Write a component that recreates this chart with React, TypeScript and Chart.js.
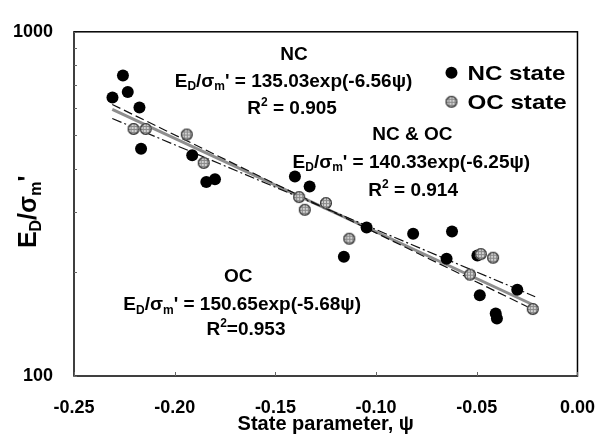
import React, { useEffect, useRef } from 'react';
import { Chart, registerables } from 'chart.js';

Chart.register(...registerables);

// ---------- data ----------
const ncPsi = [-0.2309, -0.2257, -0.2233, -0.2175, -0.2167, -0.1913, -0.1843, -0.18, -0.1403, -0.133, -0.1047, -0.0816, -0.116, -0.0623, -0.065, -0.0497, -0.0485, -0.0299, -0.0406, -0.04];
const ncED = [644, 747, 668, 603, 457, 438, 366, 373, 380, 355, 270, 259, 222, 263, 219, 224, 171.5, 178, 152, 147];

const ocPsi = [-0.2204, -0.2144, -0.194, -0.1856, -0.1382, -0.1354, -0.1249, -0.1133, -0.048, -0.0419, -0.0534, -0.0222];
const ocED = [522, 522, 503, 416, 331, 304, 318, 250.5, 226, 220.6, 197, 156.5];

// fitted lines (end points)
const fitPsi = [-0.231, -0.021];
const ncFit = [615, 155];
const ocFit = [560, 170];
const allFit = [595, 160];

const xTicks = [-0.25, -0.2, -0.15, -0.1, -0.05, 0];
const xTickLabels = ['-0.25', '-0.20', '-0.15', '-0.10', '-0.05', '0.00'];
const yTicks = [100, 200, 300, 400, 500, 600, 700, 800, 900, 1000];
const yTickLabels = ['100', '', '', '', '', '', '', '', '', '1000'];

const legendLabels = ['NC state', 'OC state'];
const xTitle = 'State parameter, \u03c8';

type Seg = { t: string; sub?: boolean; sup?: boolean };

const formula = (a: string, b: string): Seg[] => [
  { t: 'E' }, { t: 'D', sub: true }, { t: '/\u03c3' }, { t: 'm', sub: true },
  { t: `' = ${a}exp(${b}\u03c8)` },
];
const rsq = (v: string, sp: boolean): Seg[] => [{ t: 'R' }, { t: '2', sup: true }, { t: sp ? ` = ${v}` : `=${v}` }];

// text annotations anchored in data coordinates
const notes: { x: number; y: number; segs: Seg[] }[] = [
  { x: -0.1408, y: 865, segs: [{ t: 'NC' }] },
  { x: -0.141, y: 725, segs: formula('135.03', '-6.56') },
  { x: -0.1417, y: 605, segs: rsq('0.905', true) },
  { x: -0.082, y: 509, segs: [{ t: 'NC & OC' }] },
  { x: -0.0825, y: 422, segs: formula('140.33', '-6.25') },
  { x: -0.0816, y: 350, segs: rsq('0.914', true) },
  { x: -0.1684, y: 196.5, segs: [{ t: 'OC' }] },
  { x: -0.1665, y: 163, segs: formula('150.65', '-5.68') },
  { x: -0.1646, y: 138, segs: rsq('0.953', false) },
];

const FONT = '"Liberation Sans", Arial, sans-serif';

function drawRich(ctx: CanvasRenderingContext2D, segs: Seg[], cx: number, cy: number, size: number, hscale = 1) {
  ctx.save();
  ctx.textBaseline = 'alphabetic';
  ctx.textAlign = 'left';
  ctx.fillStyle = '#000';
  const fontFor = (s: Seg) => `bold ${s.sub || s.sup ? Math.round(size * 0.62) : size}px ${FONT}`;
  let w = 0;
  const widths = segs.map((s) => {
    ctx.font = fontFor(s);
    const m = ctx.measureText(s.t).width;
    w += m;
    return m;
  });
  ctx.translate(cx, cy);
  ctx.scale(hscale, 1);
  let x = -w / 2;
  const base = (size * 0.716) / 2;
  segs.forEach((s, i) => {
    ctx.font = fontFor(s);
    let y = base;
    if (s.sub) y += size * 0.2;
    if (s.sup) y -= size * 0.42;
    ctx.fillText(s.t, x, y);
    x += widths[i];
  });
  ctx.restore();
}

function makeGreyMarker(r: number): HTMLCanvasElement {
  const c = document.createElement('canvas');
  const s = r * 2 + 2;
  c.width = s;
  c.height = s;
  const g = c.getContext('2d')!;
  const m = s / 2;
  g.beginPath();
  g.arc(m, m, r, 0, Math.PI * 2);
  g.fillStyle = '#d2d2d2';
  g.fill();
  g.save();
  g.clip();
  g.strokeStyle = '#8a8a8a';
  g.lineWidth = 1;
  for (let k = -r; k <= r; k += 3) {
    g.beginPath();
    g.moveTo(m + k + 0.5, 0);
    g.lineTo(m + k + 0.5, s);
    g.stroke();
    g.beginPath();
    g.moveTo(0, m + k + 0.5);
    g.lineTo(s, m + k + 0.5);
    g.stroke();
  }
  g.restore();
  g.beginPath();
  g.arc(m, m, r - 0.6, 0, Math.PI * 2);
  g.strokeStyle = '#3a3a3a';
  g.lineWidth = 1.3;
  g.stroke();
  return c;
}

export default function App() {
  const ref = useRef<HTMLCanvasElement | null>(null);

  useEffect(() => {
    if (!ref.current) return;
    const grey = makeGreyMarker(6);

    const overlay = {
      id: 'overlay',
      beforeDatasetsDraw(chart: any) {
        const { ctx, chartArea: a, scales } = chart;
        ctx.save();
        ctx.strokeStyle = '#000';
        ctx.lineWidth = 1.5;
        ctx.strokeRect(a.left, a.top, a.right - a.left, a.bottom - a.top);
        ctx.lineWidth = 1;
        ctx.strokeStyle = '#666';
        xTicks.forEach((v) => {
          const px = Math.round(scales.x.getPixelForValue(v)) + 0.5;
          ctx.beginPath();
          ctx.moveTo(px, a.bottom);
          ctx.lineTo(px, a.bottom - 4);
          ctx.stroke();
        });
        yTicks.forEach((v) => {
          const py = Math.round(scales.y.getPixelForValue(v)) + 0.5;
          ctx.beginPath();
          ctx.moveTo(a.left, py);
          ctx.lineTo(a.left + 3, py);
          ctx.stroke();
        });
        ctx.restore();
      },
      afterDraw(chart: any) {
        const { ctx, chartArea: a, scales } = chart;
        notes.forEach((n) => {
          drawRich(ctx, n.segs, scales.x.getPixelForValue(n.x), scales.y.getPixelForValue(n.y), 19, 1.0);
        });
        // legend
        const lx = a.right - 126;
        const ly = a.top + 41;
        ctx.save();
        ctx.fillStyle = '#000';
        ctx.beginPath();
        ctx.arc(lx, ly, 6, 0, Math.PI * 2);
        ctx.fill();
        ctx.drawImage(grey, lx - grey.width / 2, ly + 29 - grey.height / 2);
        ctx.font = `bold 21px ${FONT}`;
        ctx.textBaseline = 'middle';
        ctx.textAlign = 'left';
        ctx.translate(lx + 16, 0);
        ctx.scale(1.15, 1);
        ctx.fillText(legendLabels[0], 0, ly + 1);
        ctx.fillText(legendLabels[1], 0, ly + 30);
        ctx.restore();
        // y title
        ctx.save();
        ctx.translate(27, (a.top + a.bottom) / 2 + 8);
        ctx.rotate(-Math.PI / 2);
        drawRich(ctx, [{ t: 'E' }, { t: 'D', sub: true }, { t: '/\u03c3' }, { t: 'm', sub: true }, { t: "'" }], 0, 0, 25);
        ctx.restore();
      },
    };

    const pts = (xs: number[], ys: number[]) => xs.map((x, i) => ({ x, y: ys[i] }));

    const chart = new Chart(ref.current, {
      type: 'scatter',
      data: {
        datasets: [
          {
            label: legendLabels[0],
            data: pts(ncPsi, ncED),
            pointRadius: 6,
            pointBackgroundColor: '#000',
            pointBorderWidth: 0,
            order: 1,
          },
          {
            label: legendLabels[1],
            data: pts(ocPsi, ocED),
            pointStyle: grey as any,
            order: 0,
          },
          {
            label: 'NC & OC fit',
            data: pts(fitPsi, allFit),
            showLine: true,
            pointRadius: 0,
            borderColor: '#8e8e8e',
            borderWidth: 3,
            order: 3,
          },
          {
            label: 'NC fit',
            data: pts(fitPsi, ncFit),
            showLine: true,
            pointRadius: 0,
            borderColor: '#111',
            borderWidth: 1.2,
            borderDash: [9, 4],
            order: 2,
          },
          {
            label: 'OC fit',
            data: pts(fitPsi, ocFit),
            showLine: true,
            pointRadius: 0,
            borderColor: '#111',
            borderWidth: 1.2,
            borderDash: [10, 3, 2, 3],
            order: 2,
          },
        ],
      },
      options: {
        animation: false,
        responsive: false,
        devicePixelRatio: 1,
        layout: { padding: { top: 19, right: 27, left: 0, bottom: 0 } },
        plugins: { legend: { display: false }, tooltip: { enabled: false } },
        scales: {
          x: {
            type: 'linear',
            min: -0.25,
            max: 0,
            grid: { display: false, drawTicks: false },
            border: { display: false },
            afterBuildTicks: (s: any) => {
              s.ticks = xTicks.map((v) => ({ value: v }));
            },
            afterFit: (s: any) => {
              s.height = 61;
            },
            ticks: {
              autoSkip: false,
              maxRotation: 0,
              padding: 21,
              color: '#000',
              font: { family: FONT, size: 18, weight: 'bold' },
              callback: (_v: any, i: number) => xTickLabels[i],
            },
            title: {
              display: true,
              text: xTitle,
              color: '#000',
              font: { family: FONT, size: 20, weight: 'bold' },
              padding: { top: 0, bottom: 1 },
            },
          },
          y: {
            type: 'logarithmic',
            min: 100,
            max: 1000,
            grid: { display: false, drawTicks: false },
            border: { display: false },
            afterBuildTicks: (s: any) => {
              s.ticks = yTicks.map((v) => ({ value: v }));
            },
            afterFit: (s: any) => {
              s.width = 74;
            },
            ticks: {
              autoSkip: false,
              padding: 21,
              color: '#000',
              font: { family: FONT, size: 18, weight: 'bold' },
              callback: (_v: any, i: number) => yTickLabels[i],
            },
          },
        },
      },
      plugins: [overlay],
    } as any);

    return () => chart.destroy();
  }, []);

  return (
    <div style={{ position: 'absolute', left: 0, top: 0, width: 616, height: 437, background: '#fff' }}>
      <canvas ref={ref} width={616} height={437} style={{ display: 'block' }} />
    </div>
  );
}
